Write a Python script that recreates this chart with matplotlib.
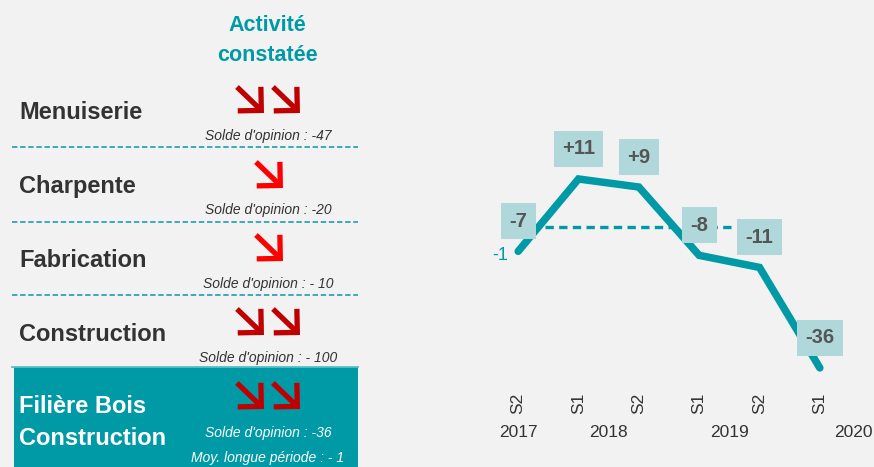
import matplotlib
matplotlib.use("Agg")
import matplotlib.pyplot as plt
from matplotlib.patches import FancyArrowPatch, Rectangle
from matplotlib.lines import Line2D
import matplotlib.transforms as mtransforms

plt.rcParams['font.family'] = ['Liberation Sans', 'DejaVu Sans']

# ---------------- data ----------------
periods = ["S2", "S1", "S2", "S1", "S2", "S1"]
years = ["2017", "2018", "2019", "2020"]
year_pos = [0, 1.5, 3.5, 5.55]
values = [-7, 11, 9, -8, -11, -36]
value_labels = ["-7", "+11", "+9", "-8", "-11", "-36"]
long_avg = -1

categories = ["Menuiserie", "Charpente", "Fabrication", "Construction"]
soldes = ["-47", "-20", "- 10", "- 100"]
arrow_counts = [2, 1, 1, 2]
filiere_solde = "-36"
filiere_moy = "- 1"

W, H = 874, 467
TEAL = "#009aa6"
BG = "#f2f2f2"

fig = plt.figure(figsize=(W / 100, H / 100), dpi=100, facecolor=BG)

def fx(px):
    return px / W

def fy(py):
    return 1 - py / H

# ---------------- left panel ----------------
fig.text(fx(267), fy(31), "Activité", color=TEAL, fontsize=15.5, fontweight='bold',
         ha='center', va='baseline')
fig.text(fx(267), fy(61), "constatée", color=TEAL, fontsize=15.5, fontweight='bold',
         ha='center', va='baseline')

row_base = [119, 193, 267, 341]
arrow_top = [87, 162, 235, 309]
solde_base = [140, 214, 288, 362]
sep_y = [147, 222, 295]

def draw_arrow(x0, y0, color):
    a = FancyArrowPatch((fx(x0), fy(y0)), (fx(x0 + 27), fy(y0 + 26)),
                        transform=fig.transFigure, arrowstyle="->,head_length=0.6,head_width=0.6",
                        mutation_scale=20, color=color, linewidth=3.8,
                        joinstyle='miter', capstyle='butt', shrinkA=0, shrinkB=0)
    fig.add_artist(a)

def draw_arrows(n, ytop, color):
    if n == 2:
        draw_arrow(237, ytop, color)
        draw_arrow(273, ytop, color)
    else:
        draw_arrow(256, ytop, color)

for i, cat in enumerate(categories):
    fig.text(fx(19), fy(row_base[i]), cat, color="#333333", fontsize=17, fontweight='bold',
             ha='left', va='baseline')
    fig.text(fx(268), fy(solde_base[i]), "Solde d'opinion : " + soldes[i], color="#333333",
             fontsize=10, style='italic', ha='center', va='baseline')
    col = "#c00000" if arrow_counts[i] == 2 else "#ff0000"
    draw_arrows(arrow_counts[i], arrow_top[i], col)

for y in sep_y:
    fig.add_artist(Line2D([fx(12), fx(358)], [fy(y), fy(y)], transform=fig.transFigure,
                          color="#2ba6b3", linewidth=1.3, linestyle=(0, (3, 1.5))))

# highlighted block
fig.add_artist(Rectangle((fx(14), 0), fx(358) - fx(14), fy(367), transform=fig.transFigure,
                         facecolor=TEAL, edgecolor='none'))
fig.add_artist(Line2D([fx(12), fx(358)], [fy(367), fy(367)], transform=fig.transFigure,
                      color="#5bbcc5", linewidth=1.3))
fig.text(fx(19), fy(413), "Filière Bois", color="white", fontsize=17, fontweight='bold',
         ha='left', va='baseline')
fig.text(fx(19), fy(445), "Construction", color="white", fontsize=17, fontweight='bold',
         ha='left', va='baseline')
draw_arrows(2, 383, "#c00000")
fig.text(fx(268), fy(437), "Solde d'opinion : " + filiere_solde, color="white",
         fontsize=10, style='italic', ha='center', va='baseline')
fig.text(fx(268), fy(462), "Moy. longue période : " + filiere_moy, color="white",
         fontsize=10, style='italic', ha='center', va='baseline')

# ---------------- line chart ----------------
ax = fig.add_axes([488 / W, (H - 384) / H, 362 / W, 241.2 / H])
ax.set_facecolor('none')
ax.set_xlim(-0.5, 5.5)
ax.set_ylim(-40, 20)
for s in ax.spines.values():
    s.set_visible(False)
ax.set_xticks([])
ax.set_yticks([])

x = list(range(len(values)))
ax.plot(x, values, color=TEAL, linewidth=5.4, solid_capstyle='round',
        solid_joinstyle='miter', zorder=2)
ax.plot([0.45, 3.6], [long_avg, long_avg], color=TEAL, linewidth=2.4,
        linestyle=(0, (2.5, 1.6)), zorder=2)

for xi, v, lab in zip(x, values, value_labels):
    ax.annotate(lab, (xi, v), xytext=(0, 21.6), textcoords='offset points',
                ha='center', va='center', fontsize=14.5, fontweight='bold', color="#555555",
                bbox=dict(boxstyle='square,pad=0.42', facecolor="#b0d8da", edgecolor='none'),
                zorder=5)

ax.annotate(str(long_avg), (0, values[0]), xytext=(-7.5, -3), textcoords='offset points',
            ha='right', va='center', fontsize=13, color=TEAL)

trans = mtransforms.blended_transform_factory(ax.transData, fig.transFigure)
for xi, p in zip(x, periods):
    ax.text(xi, fy(403), p, rotation=90, ha='center', va='center', fontsize=12.5,
            color="#333333", transform=trans, clip_on=False)
for xp, yr in zip(year_pos, years):
    ax.text(xp, fy(437), yr, ha='center', va='baseline', fontsize=12.5,
            color="#333333", transform=trans, clip_on=False)

fig.savefig("out.png", dpi=100, facecolor=BG)
